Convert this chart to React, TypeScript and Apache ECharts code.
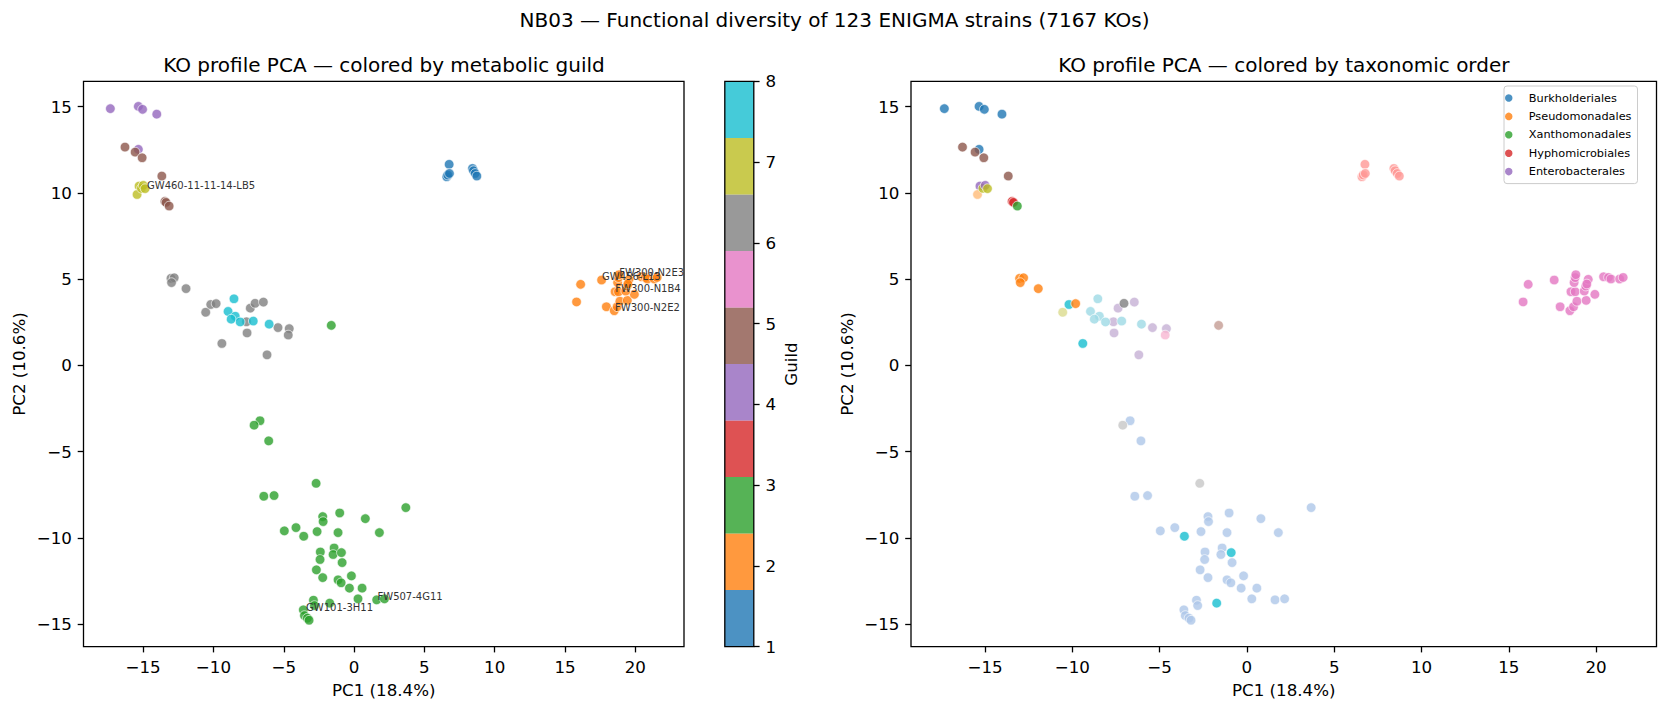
import React, { useEffect, useRef } from "react";
import * as echarts from "echarts";

// ---- colour maps (matplotlib tab10 / tab20) ----
const TAB10 = ["#1f77b4", "#ff7f0e", "#2ca02c", "#d62728", "#9467bd", "#8c564b", "#e377c2", "#7f7f7f", "#bcbd22", "#17becf"];
const TAB20 = ["#1f77b4", "#aec7e8", "#ff7f0e", "#ffbb78", "#2ca02c", "#98df8a", "#d62728", "#ff9896", "#9467bd", "#c5b0d5",
  "#8c564b", "#c49c94", "#e377c2", "#f7b6d2", "#7f7f7f", "#c7c7c7", "#bcbd22", "#dbdb8d", "#17becf", "#9edae5"];

// ---- data: [PC1, PC2, taxonomic-order colour index] per metabolic guild ----
const guild1 = [[6.76, 11.66, 7], [6.59, 10.94, 7], [6.66, 11.04, 7], [6.78, 11.13, 7], [8.42, 11.42, 7], [8.49, 11.29, 7], [8.61, 11.13, 7], [8.73, 10.98, 7]];
const guild2 = [[16.11, 4.70, 12], [15.82, 3.68, 12], [17.60, 4.95, 12], [17.94, 3.40, 12], [18.50, 3.17, 12], [18.71, 3.40, 12], [18.90, 3.72, 12],
  [19.43, 3.77, 12], [19.93, 4.12, 12], [18.56, 4.27, 12], [18.80, 4.27, 12], [19.32, 4.31, 12], [19.41, 4.60, 12], [18.74, 4.80, 12],
  [18.80, 5.09, 12], [18.84, 5.26, 12], [19.55, 4.99, 12], [19.47, 4.72, 12], [20.43, 5.14, 12], [20.71, 5.10, 12], [20.85, 5.01, 12],
  [21.35, 5.01, 12], [21.55, 5.10, 12]];
const guild3 = [[-6.69, -3.21, 1], [-7.11, -3.47, 15], [-6.07, -4.38, 1], [-2.70, -6.84, 15], [-6.42, -7.59, 1], [-5.69, -7.55, 1],
  [3.68, -8.25, 1], [-2.23, -8.77, 1], [-2.20, -9.06, 1], [-1.02, -8.56, 1], [0.80, -8.89, 1], [1.80, -9.70, 1], [-4.96, -9.60, 1],
  [-4.13, -9.41, 1], [-3.58, -9.91, 18], [-2.63, -9.64, 1], [-1.14, -9.70, 1], [-2.40, -10.82, 1], [-2.42, -11.26, 1], [-1.42, -10.59, 1],
  [-1.49, -10.97, 1], [-0.90, -10.86, 18], [-0.85, -11.44, 1], [-2.68, -11.86, 1], [-2.23, -12.31, 1], [-1.14, -12.44, 1], [-0.92, -12.61, 1],
  [-0.19, -12.21, 1], [-0.33, -12.92, 1], [0.57, -12.92, 1], [0.28, -13.54, 1], [1.61, -13.60, 1], [2.16, -13.54, 1], [-2.89, -13.62, 1],
  [-2.82, -13.93, 1], [-1.73, -13.79, 18], [-3.61, -14.18, 1], [-3.53, -14.51, 1], [-3.32, -14.66, 1], [-3.20, -14.78, 1], [-1.62, 2.32, 11]];
const guild4 = [[-17.33, 14.89, 0], [-15.34, 15.02, 0], [-15.04, 14.85, 0], [-14.03, 14.57, 0], [-15.34, 12.53, 0]];
const guild5 = [[-16.29, 12.66, 10], [-15.57, 12.37, 10], [-15.07, 12.04, 10], [-13.67, 10.98, 10], [-13.45, 9.51, 6], [-13.37, 9.45, 6], [-13.15, 9.24, 4]];
const guild6 = [[-13.02, 5.05, 2], [-12.79, 5.08, 2], [-12.98, 4.80, 2], [-11.95, 4.45, 2], [-10.55, 3.08, 17], [-10.19, 3.53, 18], [-9.81, 3.58, 2],
  [-9.40, 1.27, 18], [-7.65, 2.53, 9], [-7.61, 1.88, 9], [-7.38, 3.32, 9], [-7.04, 3.60, 14], [-6.45, 3.67, 9], [-6.19, 0.61, 9],
  [-5.41, 2.19, 9], [-4.61, 2.13, 9], [-4.68, 1.76, 13]];
const guild7 = [[-15.29, 10.40, 8], [-15.43, 9.91, 3], [-15.12, 10.27, 16], [-14.99, 10.44, 8], [-14.86, 10.25, 16]];
const guild8 = [[-8.54, 3.86, 19], [-8.96, 3.13, 19], [-8.45, 2.85, 19], [-8.74, 2.68, 19], [-8.10, 2.52, 19], [-7.17, 2.57, 19], [-6.04, 2.39, 19]];

const guildIds = [1, 2, 3, 4, 5, 6, 7, 8];
const guildSets = [guild1, guild2, guild3, guild4, guild5, guild6, guild7, guild8];

// annotated strains
const annoNames = ["GW460-11-11-14-LB5", "FW300-N2E3", "GW456-L13", "FW300-N1B4", "FW300-N2E2", "FW507-4G11", "GW101-3H11"];
const annoX = [-14.76, 18.82, 17.60, 18.54, 18.52, 1.63, -3.45];
const annoY = [10.2, 5.19, 4.95, 4.25, 3.12, -13.6, -14.28];

// legend (taxonomic orders)
const orderNames = ["Burkholderiales", "Pseudomonadales", "Xanthomonadales", "Hyphomicrobiales", "Enterobacterales"];

// colour bar bands (tab10 over guild range 1..8)
const cbLow = [1, 1.7, 2.4, 3.1, 3.8, 4.5, 5.2, 5.9, 6.6, 7.3];
const cbHigh = [1.7, 2.4, 3.1, 3.8, 4.5, 5.2, 5.9, 6.6, 7.3, 8];

const xTicks = [-15, -10, -5, 0, 5, 10, 15, 20];
const yTicks = [-15, -10, -5, 0, 5, 10, 15];
const X_MIN = -19.24, X_MAX = 23.46, Y_MIN = -16.31, Y_MAX = 16.47;

const FONT = "DejaVu Sans";
const guildColor = (g: number) => TAB10[Math.min(9, Math.floor(((g - 1) / 7) * 10))];
const fmt = (v: number) => (v < 0 ? "\u2212" + Math.abs(v) : String(v));
const rgba = (hex: string, a: number) => {
  const n = parseInt(hex.slice(1), 16);
  return `rgba(${(n >> 16) & 255},${(n >> 8) & 255},${n & 255},${a})`;
};

function valueAxis(gridIndex: number, min: number, max: number, ticks: number[], name: string, nameGap: number) {
  return {
    type: "value", gridIndex, min, max,
    axisLine: { show: false, onZero: false },
    splitLine: { show: false },
    axisTick: { show: true, length: 5.8, lineStyle: { color: "#000", width: 1.3 }, customValues: ticks },
    axisLabel: { show: true, fontSize: 16.7, color: "#000", fontFamily: FONT, margin: 11.6, customValues: ticks, formatter: fmt },
    name, nameLocation: "middle", nameGap,
    nameTextStyle: { fontSize: 16.7, color: "#000", fontFamily: FONT },
  };
}

export default function App() {
  const ref = useRef<HTMLDivElement>(null);
  useEffect(() => {
    if (!ref.current) return;
    const chart = echarts.init(ref.current, null, { renderer: "svg" });
    const scatterStyle = { opacity: 0.8, borderColor: "#ffffff", borderWidth: 0.8 };
    const leftSeries = guildSets.map((pts, i) => ({
      type: "scatter", xAxisIndex: 0, yAxisIndex: 0, silent: true, symbolSize: 9.6,
      itemStyle: { ...scatterStyle, color: guildColor(guildIds[i]) },
      data: pts.map((p) => [p[0], p[1]]),
      z: 2,
    }));
    const rightData: any[] = [];
    guildSets.forEach((pts) => pts.forEach((p) => rightData.push({ value: [p[0], p[1]], itemStyle: { color: TAB20[p[2]] } })));
    const legendSeries = orderNames.map((n, i) => ({
      type: "scatter", name: n, xAxisIndex: 1, yAxisIndex: 1, data: [], itemStyle: { color: TAB10[i] },
    }));

    const option: any = {
      animation: false,
      textStyle: { fontFamily: FONT },
      grid: [
        { left: 83.5, top: 81.4, width: 600.5, height: 565.2, show: true, borderColor: "#000", borderWidth: 1.3, backgroundColor: "transparent", containLabel: false, outerBoundsMode: "none" },
        { left: 911, top: 81.4, width: 745.5, height: 565.2, show: true, borderColor: "#000", borderWidth: 1.3, backgroundColor: "transparent", containLabel: false, outerBoundsMode: "none" },
        { left: 724.8, top: 81.4, width: 29, height: 565.2, show: false, containLabel: false, outerBoundsMode: "none" },
      ],
      xAxis: [
        valueAxis(0, X_MIN, X_MAX, xTicks, "PC1 (18.4%)", 35),
        valueAxis(1, X_MIN, X_MAX, xTicks, "PC1 (18.4%)", 35),
        { type: "value", gridIndex: 2, min: 0, max: 1, show: false },
      ],
      yAxis: [
        valueAxis(0, Y_MIN, Y_MAX, yTicks, "PC2 (10.6%)", 56),
        valueAxis(1, Y_MIN, Y_MAX, yTicks, "PC2 (10.6%)", 56),
        {
          type: "value", gridIndex: 2, min: 1, max: 8, interval: 1, position: "right",
          axisLine: { show: false, onZero: false }, splitLine: { show: false },
          axisTick: { show: true, length: 5.8, lineStyle: { color: "#000", width: 1.3 } },
          axisLabel: { fontSize: 16.7, color: "#000", fontFamily: FONT, margin: 11.6 },
          name: "Guild", nameLocation: "middle", nameGap: 29, nameRotate: 90,
          nameTextStyle: { fontSize: 16.7, color: "#000", fontFamily: FONT },
        },
      ],
      legend: {
        show: true, data: orderNames, orient: "vertical", left: 1504, top: 86,
        icon: "circle", itemWidth: 30, itemHeight: 7.5, itemGap: 4.4,
        padding: [5, 6, 5, 1], selectedMode: false,
        textStyle: { fontSize: 11.3, color: "#000", fontFamily: FONT, lineHeight: 14 },
        backgroundColor: "rgba(255,255,255,0.8)", borderColor: "#cccccc", borderWidth: 1, borderRadius: 3,
      },
      graphic: [
        { type: "text", x: 834.5, y: 20, style: { text: "NB03 \u2014 Functional diversity of 123 ENIGMA strains (7167 KOs)", fontSize: 20, fontFamily: FONT, fill: "#000", align: "center", verticalAlign: "middle" } },
        { type: "text", x: 384, y: 64.5, style: { text: "KO profile PCA \u2014 colored by metabolic guild", fontSize: 20, fontFamily: FONT, fill: "#000", align: "center", verticalAlign: "middle" } },
        { type: "text", x: 1283.8, y: 64.5, style: { text: "KO profile PCA \u2014 colored by taxonomic order", fontSize: 20, fontFamily: FONT, fill: "#000", align: "center", verticalAlign: "middle" } },
      ],
      series: [
        ...leftSeries,
        {
          type: "scatter", xAxisIndex: 0, yAxisIndex: 0, silent: true, symbolSize: 1, z: 5,
          itemStyle: { color: "rgba(0,0,0,0)" },
          data: annoNames.map((n, i) => ({ value: [annoX[i], annoY[i]], name: n })),
          label: { show: true, position: "right", distance: 0, offset: [0, -3.6], formatter: (p: any) => p.name, fontSize: 10, color: "#333333", fontFamily: FONT, opacity: 1 },
        },
        {
          type: "scatter", xAxisIndex: 1, yAxisIndex: 1, silent: true, symbolSize: 9.6,
          itemStyle: scatterStyle, data: rightData, z: 2,
        },
        ...legendSeries,
        {
          type: "custom", xAxisIndex: 2, yAxisIndex: 2, silent: true, z: 2,
          data: cbLow.map((lo, i) => [0, lo, 1, cbHigh[i], i]),
          encode: { x: [0, 2], y: [1, 3] },
          renderItem: (params: any, api: any) => {
            const p0 = api.coord([api.value(0), api.value(1)]);
            const p1 = api.coord([api.value(2), api.value(3)]);
            return {
              type: "rect",
              shape: { x: p0[0], y: p1[1], width: p1[0] - p0[0], height: p0[1] - p1[1] },
              style: { fill: rgba(TAB10[api.value(4)], 0.8), stroke: null },
            };
          },
        },
        {
          type: "custom", xAxisIndex: 2, yAxisIndex: 2, silent: true, z: 3,
          data: [[0, 1, 1, 8]],
          encode: { x: [0, 2], y: [1, 3] },
          renderItem: (params: any, api: any) => {
            const p0 = api.coord([api.value(0), api.value(1)]);
            const p1 = api.coord([api.value(2), api.value(3)]);
            return {
              type: "rect",
              shape: { x: p0[0], y: p1[1], width: p1[0] - p0[0], height: p0[1] - p1[1] },
              style: { fill: "none", stroke: "#000", lineWidth: 1.3 },
            };
          },
        },
      ],
    };
    chart.setOption(option);
    return () => chart.dispose();
  }, []);
  return <div ref={ref} style={{ position: "absolute", left: 0, top: 0, width: 1669, height: 713, background: "#fff" }} />;
}
